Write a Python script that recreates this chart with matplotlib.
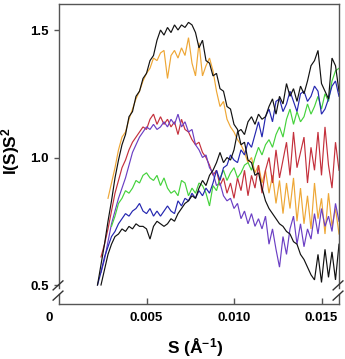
import numpy as np
import matplotlib
matplotlib.use('Agg')
import matplotlib.pyplot as plt
import matplotlib.transforms as mtransforms

plt.rcParams['font.family'] = ['Liberation Sans', 'DejaVu Sans']
plt.rcParams['font.weight'] = 'bold'
plt.rcParams['mathtext.fontset'] = 'custom'
plt.rcParams['mathtext.rm'] = 'Liberation Sans:bold'
plt.rcParams['mathtext.bf'] = 'Liberation Sans:bold'
plt.rcParams['mathtext.default'] = 'bf'

# ---------------- data ----------------
s_first = 0.0022
s_step = 0.0002
n_points = 70
s_grid = np.round(s_first + s_step * np.arange(n_points), 6)

# each series: first grid index, values
black_high_start = 0
black_high = [
    0.50, 0.58, 0.66, 0.75, 0.83, 0.92, 0.99, 1.05, 1.09, 1.16,
    1.18, 1.24, 1.26, 1.31, 1.33, 1.38, 1.40, 1.46, 1.50, 1.48,
    1.51, 1.49, 1.52, 1.50, 1.52, 1.51, 1.53, 1.52, 1.49, 1.43,
    1.46, 1.38, 1.37, 1.32, 1.33, 1.27, 1.26, 1.20, 1.19, 1.13,
    1.11, 1.05, 1.06, 0.99, 0.98, 0.93, 0.94, 0.88, 0.83, 0.80,
    0.78, 0.76, 0.74, 0.73, 0.71, 0.70, 0.67, 0.66, 0.62, 0.60,
    0.57, 0.54, 0.52, 0.62, 0.51, 0.64, 0.53, 0.63, 0.52, 0.66]

orange_start = 3
orange = [
    0.84, 0.90, 0.96, 1.03, 1.08, 1.10, 1.15,
    1.19, 1.23, 1.26, 1.30, 1.33, 1.35, 1.39, 1.38, 1.41, 1.42,
    1.31, 1.40, 1.42, 1.39, 1.43, 1.40, 1.47, 1.37, 1.32, 1.45,
    1.32, 1.36, 1.39, 1.34, 1.26, 1.20, 1.22, 1.15, 1.12, 1.10,
    1.07, 1.05, 1.02, 0.98, 1.00, 0.94, 0.97, 0.90, 0.95, 0.86,
    0.93, 0.82, 0.91, 0.78, 0.90, 0.80, 0.92, 0.75, 0.88, 0.74,
    0.85, 0.72, 0.90, 0.76, 0.84, 0.70, 0.86, 0.73, 0.80, 0.70]

red_start = 1
red = [
    0.61, 0.66, 0.72, 0.79, 0.86, 0.91, 0.96, 0.99, 1.03,
    1.06, 1.08, 1.10, 1.12, 1.11, 1.15, 1.17, 1.13, 1.16, 1.13,
    1.15, 1.12, 1.14, 1.09, 1.15, 1.11, 1.10, 1.07, 1.05, 1.06,
    1.02, 1.00, 0.97, 0.93, 0.95, 0.89, 0.92, 0.86, 0.90, 0.84,
    0.92, 0.87, 0.95, 0.85, 0.93, 0.88, 0.97, 0.86, 0.95, 1.00,
    0.90, 1.03, 0.92, 0.99, 1.06, 0.93, 1.10, 0.96, 1.02, 1.08,
    0.90, 1.04, 0.95, 1.10, 0.93, 1.12, 0.97, 0.88, 1.06, 0.95]

purple_start = 1
purple = [
    0.55, 0.60, 0.67, 0.74, 0.79, 0.84, 0.88, 0.92, 0.97,
    1.02, 1.05, 1.08, 1.10, 1.12, 1.11, 1.13, 1.11, 1.12, 1.14,
    1.12, 1.15, 1.13, 1.17, 1.12, 1.14, 1.10, 1.11, 1.05, 1.03,
    1.00, 1.01, 0.96, 0.94, 0.89, 0.90, 0.85, 0.83, 0.84, 0.80,
    0.82, 0.76, 0.79, 0.74, 0.78, 0.73, 0.76, 0.72, 0.77, 0.66,
    0.72, 0.64, 0.57, 0.69, 0.62, 0.72, 0.77, 0.66, 0.74, 0.65,
    0.72, 0.68, 0.78, 0.70, 0.80, 0.73, 0.77, 0.71, 0.82, 0.75]

green_start = 4
green = [
    0.73, 0.77, 0.82, 0.84, 0.87, 0.86,
    0.88, 0.91, 0.90, 0.93, 0.94, 0.92, 0.91, 0.93, 0.89, 0.92,
    0.88, 0.86, 0.87, 0.85, 0.91, 0.90, 0.85, 0.88, 0.86, 0.90,
    0.89, 0.86, 0.81, 0.89, 0.87, 0.92, 0.95, 0.91, 0.94, 0.96,
    0.92, 0.94, 0.97, 0.98, 0.95, 1.00, 1.04, 1.01, 1.05, 1.07,
    1.04, 1.09, 1.12, 1.08, 1.15, 1.19, 1.13, 1.18, 1.14, 1.16,
    1.21, 1.17, 1.20, 1.24, 1.19, 1.25, 1.22, 1.30, 1.34, 1.35]

blue_start = 0
blue = [
    0.50, 0.55, 0.61, 0.65, 0.69, 0.71, 0.74, 0.76, 0.78, 0.77,
    0.79, 0.80, 0.82, 0.79, 0.78, 0.80, 0.77, 0.79, 0.77, 0.79,
    0.81, 0.79, 0.78, 0.83, 0.81, 0.84, 0.83, 0.86, 0.84, 0.87,
    0.85, 0.88, 0.86, 0.90, 0.95, 0.91, 0.96, 0.97, 1.01, 0.99,
    0.98, 1.03, 1.01, 1.06, 1.04, 1.09, 1.14, 1.08, 1.16, 1.19,
    1.14, 1.22, 1.23, 1.18, 1.21, 1.26, 1.22, 1.18, 1.25, 1.26,
    1.22, 1.24, 1.28, 1.26, 1.17, 1.19, 1.23, 1.28, 1.30, 1.24]

black_low_start = 1
black_low = [
    0.50, 0.56, 0.62, 0.66, 0.69, 0.70, 0.72, 0.71, 0.73,
    0.72, 0.74, 0.73, 0.73, 0.72, 0.68,
    0.73, 0.75, 0.74, 0.73, 0.74, 0.76, 0.75, 0.78, 0.80, 0.82,
    0.83, 0.85, 0.84, 0.88, 0.91, 0.89, 0.93, 0.95, 0.98, 1.02,
    0.98, 1.00, 0.99, 1.03, 1.10, 1.11, 1.09, 1.14, 1.16, 1.13,
    1.17, 1.15, 1.16, 1.20, 1.23, 1.17, 1.24, 1.21, 1.29, 1.24,
    1.27, 1.22, 1.28, 1.25, 1.30, 1.36, 1.38, 1.42, 1.29, 1.26,
    1.23, 1.39, 1.36, 1.26]

series = [
    (orange_start, orange, '#eea736'),
    (red_start, red, '#c4303c'),
    (purple_start, purple, '#6b3fc4'),
    (green_start, green, '#45d23c'),
    (blue_start, blue, '#2426b0'),
    (black_low_start, black_low, '#111111'),
    (black_high_start, black_high, '#111111'),
]

x_ticks = [0.005, 0.010, 0.015]
x_ticklabels = ['0.005', '0.010', '0.015']
y_ticks = [0.5, 1.0, 1.5]
y_ticklabels = ['0.5', '1.0', '1.5']

# ---------------- figure ----------------
W, H = 345, 359
fig = plt.figure(figsize=(W / 100, H / 100), dpi=100)
ax = fig.add_axes([59 / W, 55 / H, 280 / W, 300 / H])

for start, vals, col in series:
    xs = s_grid[start:start + len(vals)]
    ax.plot(xs, vals, color=col, lw=0.85, solid_joinstyle='miter')

ax.set_xlim(0, 0.016)
ax.set_ylim(0.4255, 1.602)

frame_col = '#555555'
frame_lw = 1.0
for side in ('left', 'right'):
    ax.spines[side].set_visible(False)
for side in ('top', 'bottom'):
    ax.spines[side].set_color(frame_col)
    ax.spines[side].set_linewidth(frame_lw)

# broken left/right spines with break marks
for xpos in (0.0, 1.0):
    ax.plot([xpos, xpos], [0.055, 1.0], transform=ax.transAxes,
            color=frame_col, lw=frame_lw, clip_on=False)
    ax.plot([xpos, xpos], [0.0, 0.032], transform=ax.transAxes,
            color=frame_col, lw=frame_lw, clip_on=False)
    for y0 in (0.013, 0.047):
        ax.plot([xpos - 0.021, xpos + 0.014], [y0, y0 + 0.030],
                transform=ax.transAxes, color='#333333', lw=1.0,
                clip_on=False)

ax.set_xticks(x_ticks)
ax.set_xticklabels(x_ticklabels)
ax.set_yticks(y_ticks)
ax.set_yticklabels(y_ticklabels)
ax.tick_params(axis='x', direction='in', length=4, width=1.0,
               color=frame_col, pad=5.5, labelsize=9.5)
ax.tick_params(axis='y', direction='out', length=3.5, width=1.0,
               color=frame_col, pad=4, labelsize=9.5)

trans = mtransforms.blended_transform_factory(ax.transData, ax.transAxes)
ax.text(-0.00055, -0.0255, '0', transform=trans, ha='center', va='top',
        fontsize=9.5, fontweight='bold')

fig.text(195 / W, 1 - 348 / H, 'S (Å$^{-1}$)', ha='center', va='center',
         fontsize=12.5, fontweight='bold')
fig.text(11 / W, 1 - 151 / H, 'I(S)S$^{2}$', ha='center', va='center',
         rotation=90, fontsize=12.5, fontweight='bold')

fig.savefig('out.png', dpi=100)
